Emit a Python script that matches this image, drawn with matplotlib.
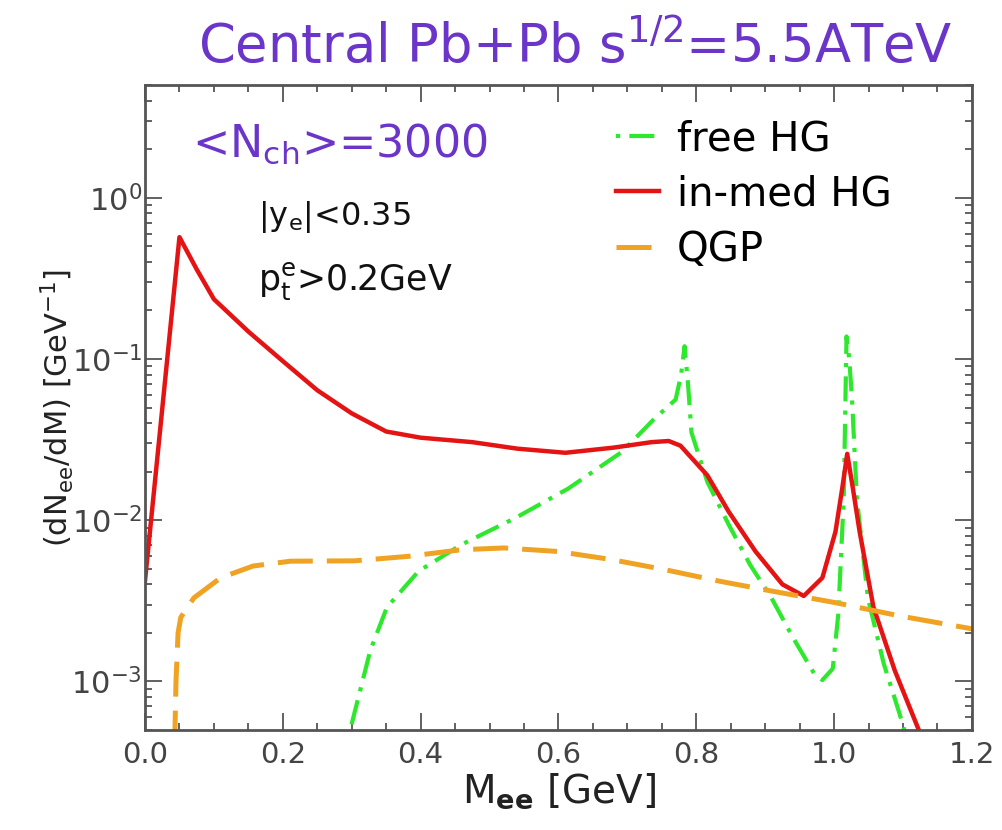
import matplotlib
matplotlib.use("Agg")
import matplotlib.pyplot as plt
import numpy as np

plt.rcParams['font.family'] = ['DejaVu Sans']
plt.rcParams['mathtext.fontset'] = 'dejavusans'

# in-medium hadron gas
m_med = [0.0, 0.05, 0.075, 0.1, 0.15, 0.2, 0.25, 0.3, 0.35, 0.4, 0.475, 0.54, 0.61, 0.68,
         0.735, 0.76, 0.777, 0.816, 0.847, 0.886, 0.925, 0.956, 0.983, 1.002, 1.012,
         1.019, 1.027, 1.037, 1.057, 1.088, 1.13]
y_med = [4.2e-3, 0.57, 0.36, 0.235, 0.148, 0.097, 0.064, 0.046, 0.0355, 0.0325, 0.0305,
         0.0278, 0.0262, 0.0282, 0.0305, 0.031, 0.029, 0.019, 0.0113, 6.4e-3, 4.0e-3,
         3.39e-3, 4.4e-3, 8.5e-3, 0.016, 0.0258, 0.016, 8.5e-3, 2.9e-3, 1.17e-3, 4.2e-4]

# free hadron gas
m_free = [0.295, 0.327, 0.351, 0.397, 0.459, 0.537, 0.614, 0.692, 0.739, 0.77, 0.778,
          0.783, 0.788, 0.793, 0.816, 0.847, 0.878, 0.909, 0.94, 0.971, 0.983, 0.998,
          1.006, 1.014, 1.018, 1.022, 1.026, 1.033, 1.049, 1.072, 1.095, 1.105]
y_free = [4.5e-4, 1.56e-3, 2.88e-3, 4.83e-3, 7.05e-3, 0.0103, 0.0157, 0.0265, 0.0425,
          0.056, 0.08, 0.12, 0.07, 0.035, 0.0173, 9.4e-3, 5.3e-3, 3.3e-3, 1.88e-3,
          1.12e-3, 1.02e-3, 1.2e-3, 2.6e-3, 0.0137, 0.138, 0.1, 0.056, 0.0137, 3.3e-3,
          1.29e-3, 6.3e-4, 4.5e-4]

# QGP
m_qgp = [0.043, 0.045, 0.048, 0.052, 0.071, 0.11, 0.157, 0.211, 0.304, 0.382, 0.459,
         0.521, 0.599, 0.677, 0.754, 0.832, 0.909, 1.002, 1.095, 1.2]
y_qgp = [4e-4, 1e-3, 2e-3, 2.5e-3, 3.3e-3, 4.4e-3, 5.2e-3, 5.57e-3, 5.6e-3, 5.97e-3,
         6.56e-3, 6.73e-3, 6.4e-3, 5.7e-3, 4.94e-3, 4.2e-3, 3.64e-3, 3.08e-3, 2.55e-3,
         2.12e-3]

purple = '#6a35c8'

fig = plt.figure(figsize=(10.02, 8.30), dpi=100)
ax = fig.add_axes([0.1447, 0.1205, 0.8253, 0.777])

ax.plot(m_free, y_free, color='#2ee82e', lw=3.0, linestyle=(0, (1, 2.2, 6, 2.2)),
        label='free HG')
ax.plot(m_med, y_med, color='#e51414', lw=3.2, label='in-med HG')
ax.plot(m_qgp, y_qgp, color='#f0a323', lw=3.6, dashes=(7, 2.8), label='QGP')

ax.set_yscale('log')
ax.set_xlim(0, 1.2)
ax.set_ylim(5e-4, 5)
ax.set_xticks(np.arange(0, 1.21, 0.2))
ax.set_xticks(np.arange(0, 1.21, 0.05), minor=True)
ax.set_xticklabels(['0.0', '0.2', '0.4', '0.6', '0.8', '1.0', '1.2'])
ax.tick_params(which='both', direction='in', top=True, right=True, colors='#555555',
               labelcolor='#444444', labelsize=21, width=1.3)
ax.tick_params(which='major', length=12)
ax.tick_params(which='minor', length=5)
ax.tick_params(axis='x', which='major', pad=8)
ax.tick_params(axis='y', which='major', pad=2, labelsize=22)
for s in ax.spines.values():
    s.set_color('#555555')
    s.set_linewidth(2)

ax.set_xlabel(r'M$_{\mathbf{ee}}$ [GeV]', fontsize=28, color='#222222', labelpad=2)
ax.set_ylabel(r'(dN$_{\mathrm{ee}}$/dM) [GeV$^{-1}$]', fontsize=22, color='#222222')
ax.yaxis.set_label_coords(-0.083, 0.5)
fig.text(0.574, 0.925, r'Central Pb+Pb s$^{1/2}$=5.5ATeV', fontsize=38, color=purple,
         ha='center', va='baseline')

ax.text(0.0565, 0.889, r'<N$_{\mathrm{ch}}$>=3000', transform=ax.transAxes, fontsize=32,
        color=purple, va='baseline')
ax.text(0.1366, 0.783, r'|y$_{\mathrm{e}}$|<0.35', transform=ax.transAxes, fontsize=23,
        color='#111111', va='baseline')
ax.text(0.1366, 0.682, r'p$_{\mathrm{t}}^{\mathrm{e}}$>0.2GeV', transform=ax.transAxes,
        fontsize=25, color='#111111', va='baseline')

leg = ax.legend(loc='upper left', bbox_to_anchor=(0.5695, 0.947), frameon=False,
                fontsize=29, handlelength=1.07, handletextpad=0.45, labelspacing=0.38,
                borderpad=0, borderaxespad=0)

fig.savefig('out.png', dpi=100)
